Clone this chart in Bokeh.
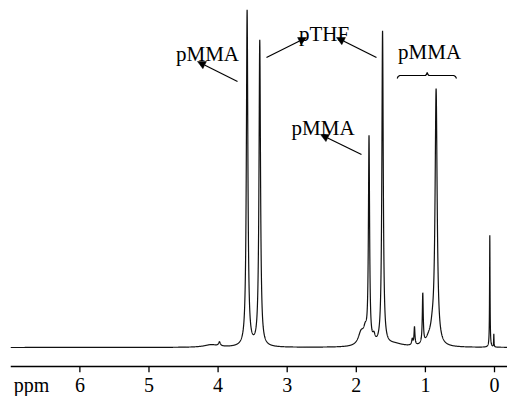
import numpy as np
from bokeh.plotting import figure
from bokeh.models import Range1d, Label, Arrow, NormalHead, FixedTicker, Span
from bokeh.embed import file_html
from bokeh.resources import INLINE

# ---- data ----
# peak list of the 1H NMR spectrum: position (ppm), height (a.u.), half-width (ppm)
peak_ppm    = [3.58, 3.397, 1.62, 1.816, 0.845, 1.038, 1.158, 1.19, 0.068, 0.01, 3.98, 4.10, 1.93, 1.87, 1.745, 1.45, 0.95, 0.90]
peak_height = [336, 306, 314, 205, 255, 50, 18, 6, 112, 13, 4, 2.5, 13, 12, 7, 3, 6, 10]
peak_width  = [0.013, 0.013, 0.012, 0.010, 0.018, 0.008, 0.008, 0.01, 0.004, 0.003, 0.015, 0.12, 0.05, 0.03, 0.02, 0.15, 0.05, 0.03]

tick_values = [0, 1, 2, 3, 4, 5, 6]
tick_labels = ["0", "1", "2", "3", "4", "5", "6"]
unit_label = "ppm"
unit_pos = 6.70

# annotations: (text, ppm, intensity)
labels = [("pMMA", 4.153, 294), ("pTHF", 2.467, 314), ("pMMA", 0.94, 296), ("pMMA", 2.48, 220)]
# arrows: tail (ppm, I) -> head (ppm, I)
arrows = [((3.719, 266), (4.298, 286)),
          ((3.30, 290), (2.72, 310)),
          ((1.708, 290), (2.287, 310)),
          ((1.925, 193), (2.518, 213))]
# brace over the pMMA methyl region
brace_x = [1.408, 1.395, 1.37, 1.0, 0.985, 0.974, 0.963, 0.948, 0.59, 0.565, 0.55]
brace_y = [269, 271, 272, 272, 273, 275, 273, 272, 272, 271, 269]

AXIS_Y = -19      # level of the ppm axis line (intensity units)
TICK_END = -25    # tick marks hang below the axis line

# ---- spectrum from the peak list ----
ppm = np.arange(7.004, -0.19, -0.001)
inten = np.zeros_like(ppm)
for c, h, w in zip(peak_ppm, peak_height, peak_width):
    inten += h / (1.0 + ((ppm - c) / w) ** 2)

FONT = "Liberation Serif"

p = figure(frame_width=497, frame_height=372,
           x_range=Range1d(7.004, -0.188), y_range=Range1d(TICK_END, 347),
           output_backend="svg", toolbar_location=None, y_axis_location=None,
           min_border_left=10, min_border_right=0, min_border_top=0, min_border_bottom=0)
p.outline_line_color = None
p.xgrid.visible = False
p.ygrid.visible = False
p.background_fill_color = "white"
p.border_fill_color = "white"

p.line(ppm, inten, line_color="#111111", line_width=1.2)

# axis line and tick marks
p.add_layout(Span(location=AXIS_Y, dimension="width", line_color="black", line_width=1.5))
p.segment(x0=tick_values, y0=[AXIS_Y] * len(tick_values),
          x1=tick_values, y1=[TICK_END] * len(tick_values),
          line_color="black", line_width=1.3)

ax = p.xaxis[0]
ax.ticker = FixedTicker(ticks=tick_values + [unit_pos])
overrides = {v: s for v, s in zip(tick_values, tick_labels)}
overrides[unit_pos] = unit_label
ax.major_label_overrides = overrides
ax.axis_line_color = None
ax.major_tick_line_color = None
ax.minor_tick_line_color = None
ax.major_tick_in = 0
ax.major_tick_out = 0
ax.major_label_text_font = FONT
ax.major_label_text_font_size = "20px"
ax.major_label_text_color = "black"
ax.major_label_standoff = 1

for txt, x, y in labels:
    p.add_layout(Label(x=x, y=y, text=txt, text_font=FONT, text_font_size="21px",
                       text_color="black", text_align="center", text_baseline="alphabetic"))

for (x0, y0), (x1, y1) in arrows:
    p.add_layout(Arrow(x_start=x0, y_start=y0, x_end=x1, y_end=y1, line_width=1.2,
                       line_color="black",
                       end=NormalHead(size=8, fill_color="black", line_color="black", line_width=0.5)))

p.line(brace_x, brace_y, line_color="black", line_width=1.2)

open("out.html", "w").write(file_html(p, INLINE))
